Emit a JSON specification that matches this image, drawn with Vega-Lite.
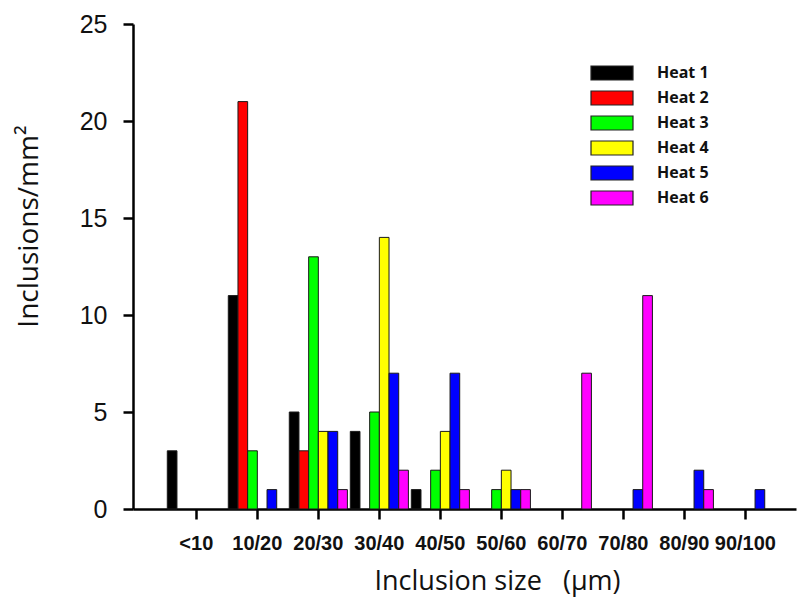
{
  "$schema": "https://vega.github.io/schema/vega-lite/v6.json",
  "width": 663,
  "height": 485,
  "autosize": "none",
  "padding": {"left": 133, "top": 24, "right": 2, "bottom": 90},
  "background": "white",
  "data": {
    "values": [
      {"size": "<10", "heat": "Heat 1", "value": 3},
      {"size": "10/20", "heat": "Heat 1", "value": 11},
      {"size": "10/20", "heat": "Heat 2", "value": 21},
      {"size": "10/20", "heat": "Heat 3", "value": 3},
      {"size": "10/20", "heat": "Heat 5", "value": 1},
      {"size": "20/30", "heat": "Heat 1", "value": 5},
      {"size": "20/30", "heat": "Heat 2", "value": 3},
      {"size": "20/30", "heat": "Heat 3", "value": 13},
      {"size": "20/30", "heat": "Heat 4", "value": 4},
      {"size": "20/30", "heat": "Heat 5", "value": 4},
      {"size": "20/30", "heat": "Heat 6", "value": 1},
      {"size": "30/40", "heat": "Heat 1", "value": 4},
      {"size": "30/40", "heat": "Heat 3", "value": 5},
      {"size": "30/40", "heat": "Heat 4", "value": 14},
      {"size": "30/40", "heat": "Heat 5", "value": 7},
      {"size": "30/40", "heat": "Heat 6", "value": 2},
      {"size": "40/50", "heat": "Heat 1", "value": 1},
      {"size": "40/50", "heat": "Heat 3", "value": 2},
      {"size": "40/50", "heat": "Heat 4", "value": 4},
      {"size": "40/50", "heat": "Heat 5", "value": 7},
      {"size": "40/50", "heat": "Heat 6", "value": 1},
      {"size": "50/60", "heat": "Heat 3", "value": 1},
      {"size": "50/60", "heat": "Heat 4", "value": 2},
      {"size": "50/60", "heat": "Heat 5", "value": 1},
      {"size": "50/60", "heat": "Heat 6", "value": 1},
      {"size": "60/70", "heat": "Heat 6", "value": 7},
      {"size": "70/80", "heat": "Heat 5", "value": 1},
      {"size": "70/80", "heat": "Heat 6", "value": 11},
      {"size": "80/90", "heat": "Heat 5", "value": 2},
      {"size": "80/90", "heat": "Heat 6", "value": 1},
      {"size": "90/100", "heat": "Heat 5", "value": 1}
    ]
  },
  "mark": {"type": "bar", "stroke": "#1a1a1a", "strokeWidth": 1},
  "encoding": {
    "x": {
      "field": "size",
      "type": "nominal",
      "scale": {
        "domain": ["<10", "10/20", "20/30", "30/40", "40/50", "50/60", "60/70", "70/80", "80/90", "90/100"],
        "paddingInner": 0,
        "paddingOuter": 0.434,
        "align": 0.62
      },
      "axis": {
        "domainColor": "#000000",
        "domainWidth": 2.5,
        "tickColor": "#000000",
        "tickWidth": 2.5,
        "tickSize": 10,
        "labelFont": "Liberation Sans",
        "labelFontWeight": "bold",
        "labelFontSize": 20,
        "labelColor": "#111111",
        "labelAngle": 0,
        "labelPadding": 14,
        "title": "Inclusion size\u00a0\u00a0\u00a0(μm)",
        "titleFont": "Open Sans",
        "titleFontSize": 27,
        "titleFontWeight": "normal",
        "titleColor": "#111111",
        "titleX": 364,
        "titleY": 80,
        "titleAlign": "center",
        "titleBaseline": "alphabetic"
      }
    },
    "xOffset": {
      "field": "heat",
      "scale": {
        "domain": ["Heat 1", "Heat 2", "Heat 3", "Heat 4", "Heat 5", "Heat 6"],
        "paddingInner": 0,
        "paddingOuter": 0.15
      }
    },
    "y": {
      "field": "value",
      "type": "quantitative",
      "scale": {"domain": [0, 25], "nice": false},
      "axis": {
        "values": [0, 5, 10, 15, 20, 25],
        "grid": false,
        "domainColor": "#000000",
        "domainWidth": 2.5,
        "tickColor": "#000000",
        "tickWidth": 2.5,
        "tickSize": 10,
        "labelFont": "Liberation Sans",
        "labelFontSize": 25,
        "labelColor": "#111111",
        "labelPadding": 16,
        "title": "Inclusions/mm²",
        "titleFont": "Open Sans",
        "titleFontSize": 28,
        "titleFontWeight": "normal",
        "titleColor": "#111111",
        "titleAngle": 270,
        "titleX": -96,
        "titleY": 202,
        "titleAlign": "center",
        "titleBaseline": "alphabetic"
      }
    },
    "color": {
      "field": "heat",
      "type": "nominal",
      "scale": {
        "domain": ["Heat 1", "Heat 2", "Heat 3", "Heat 4", "Heat 5", "Heat 6"],
        "range": ["#000000", "#ff0000", "#00ff00", "#ffff00", "#0000ff", "#ff00ff"]
      },
      "legend": {
        "orient": "none",
        "legendX": 471,
        "legendY": 41,
        "title": null,
        "symbolType": "M-3,-1H3V1H-3Z",
        "symbolSize": 196,
        "symbolStrokeColor": "#222222",
        "symbolStrokeWidth": 1.2,
        "symbolOpacity": 1,
        "labelFont": "Open Sans",
        "labelFontWeight": "bold",
        "labelFontSize": 16,
        "labelColor": "#111111",
        "labelOffset": 37,
        "rowPadding": 5
      }
    }
  },
  "config": {"view": {"stroke": null}}
}
